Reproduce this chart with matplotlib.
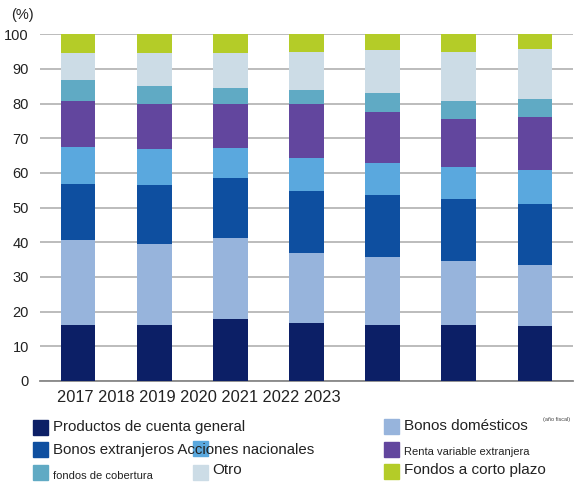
import matplotlib
matplotlib.use("Agg")
import matplotlib.pyplot as plt
import numpy as np
from matplotlib.patches import Rectangle

plt.rcParams['font.family'] = ['Liberation Sans', 'DejaVu Sans']

years = ["2017", "2018", "2019", "2020", "2021", "2022", "2023"]

# share of each asset class per fiscal year (%), bottom to top
cuenta_general = [16.2, 16.2, 17.8, 16.6, 16.2, 16.2, 15.9]
bonos_domesticos = [24.5, 23.3, 23.4, 20.2, 19.5, 18.4, 17.7]
bonos_extranjeros = [16.2, 16.9, 17.4, 18.0, 18.0, 18.0, 17.4]
acciones_nacionales = [10.7, 10.4, 8.7, 9.5, 9.2, 9.2, 9.8]
renta_extranjera = [13.1, 13.2, 12.7, 15.7, 14.7, 13.7, 15.3]
cobertura = [6.1, 5.2, 4.4, 3.9, 5.5, 5.2, 5.3]
otro = [7.7, 9.3, 10.1, 10.9, 12.5, 14.1, 14.5]
corto_plazo = [5.5, 5.5, 5.5, 5.2, 4.4, 5.2, 4.1]

series = [cuenta_general, bonos_domesticos, bonos_extranjeros, acciones_nacionales,
          renta_extranjera, cobertura, otro, corto_plazo]
colors = ["#0c1f66", "#97b4dc", "#0e4fa0", "#5aa8de",
          "#62469e", "#60aac4", "#ccdce6", "#b4cc28"]

fig = plt.figure(figsize=(5.74, 4.82), dpi=100)
ax = fig.add_axes([40 / 574, 101 / 482, 533 / 574, 346.7 / 482])

x = np.arange(len(years))
bottom = np.zeros(len(years))
for vals, c in zip(series, colors):
    ax.bar(x, vals, bottom=bottom, width=0.456, color=c, zorder=3)
    bottom += np.array(vals)

ax.set_xlim(-0.5, 6.5)
ax.set_ylim(0, 100)
ax.set_yticks(range(0, 101, 10))
ax.tick_params(axis='y', length=0, pad=8, labelsize=10.5, labelcolor="#222222")
ax.set_xticks([])
ax.yaxis.grid(True, color="#b0b0b0", linewidth=1.2, zorder=0)
for s in ["top", "right", "left"]:
    ax.spines[s].set_visible(False)
ax.spines["bottom"].set_color("#888888")
ax.spines["bottom"].set_linewidth(1.3)

fig.text(11 / 574, 1 - 15 / 482, "(%)", fontsize=10.5, color="#222222", va="center")
fig.text(57 / 574, 1 - 397 / 482, " ".join(years), fontsize=11.8, color="#222222", va="center")


def legend_item(px, py, color, label, size, tx=None, ty=None):
    fig.patches.append(Rectangle((px / 574, 1 - (py + 15) / 482), 15 / 574, 15 / 482,
                                 color=color, transform=fig.transFigure, figure=fig))
    if label:
        fig.text((tx if tx else px + 20) / 574, 1 - (ty if ty else py + 8) / 482, label,
                 fontsize=size, color="#222222", va="center")


legend_item(32.7, 419.5, colors[0], "Productos de cuenta general", 10.8)
legend_item(32.7, 441.7, colors[2], "Bonos extranjeros Acciones nacionales", 10.8)
legend_item(32.7, 465, colors[5], "fondos de cobertura", 8, ty=476)
legend_item(192.7, 441, colors[3], None, 11)
legend_item(192.7, 465, colors[6], "Otro", 11, tx=212.5, ty=470)
legend_item(384.3, 419, colors[1], "Bonos domésticos", 11, ty=426)
legend_item(384.3, 442, colors[4], "Renta variable extranjera", 8, ty=452)
legend_item(384.3, 463.5, colors[7], "Fondos a corto plazo", 11, ty=470)
fig.text(542.7 / 574, 1 - 420 / 482, "(año fiscal)", fontsize=4, color="#444444", va="center")

fig.savefig("out.png", dpi=100)
